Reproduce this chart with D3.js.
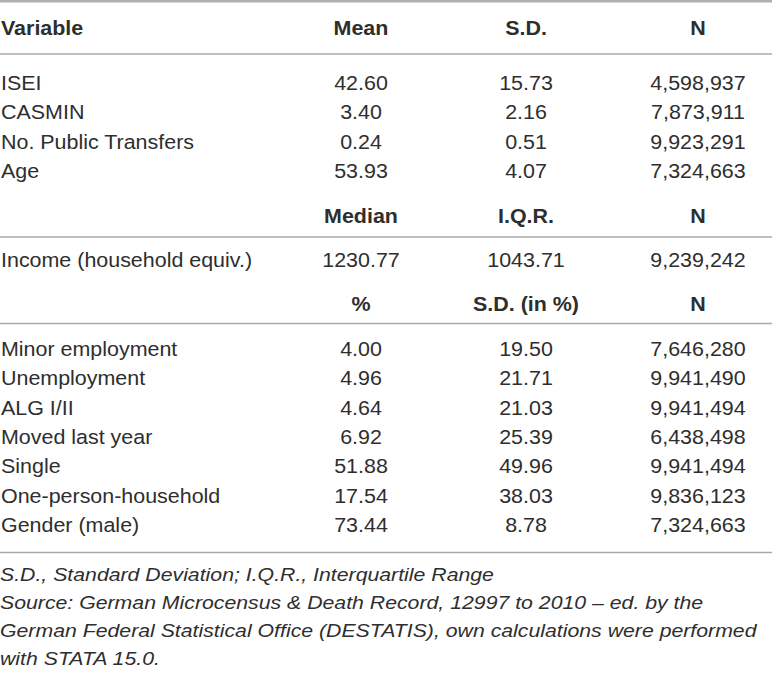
<!DOCTYPE html>
<html>
<head>
<meta charset="utf-8">
<title>Descriptive statistics</title>
<style>
  body { margin: 0; background: #fff; }
  text { font-family: "Liberation Sans", Arial, Helvetica, sans-serif; fill: #2e2e2e; }
</style>
</head>
<body>
<div id="chart"></div>
<script src="https://d3js.org/d3.v7.min.js"></script>
<script>

// table content, one array per thing
var headMeans = ["Variable", "Mean", "S.D.", "N"];
var headMedian = ["", "Median", "I.Q.R.", "N"];
var headPct = ["", "%", "S.D. (in %)", "N"];

var meanVars = ["ISEI", "CASMIN", "No. Public Transfers", "Age"];
var meanVals = [42.60, 3.40, 0.24, 53.93];
var meanSD = [15.73, 2.16, 0.51, 4.07];
var meanN = [4598937, 7873911, 9923291, 7324663];

var medVars = ["Income (household equiv.)"];
var medVals = [1230.77];
var medIQR = [1043.71];
var medN = [9239242];

var pctVars = ["Minor employment", "Unemployment", "ALG I/II", "Moved last year",
               "Single", "One-person-household", "Gender (male)"];
var pctVals = [4.00, 4.96, 4.64, 6.92, 51.88, 17.54, 73.44];
var pctSD = [19.50, 21.71, 21.03, 25.39, 49.96, 38.03, 8.78];
var pctN = [7646280, 9941490, 9941494, 6438498, 9941494, 9836123, 7324663];

var notes = [
  "S.D., Standard Deviation; I.Q.R., Interquartile Range",
  "Source: German Microcensus & Death Record, 12997 to 2010 \u2013 ed. by the",
  "German Federal Statistical Office (DESTATIS), own calculations were performed",
  "with STATA 15.0."
];

var w = 772, h = 675;
var fs = 19.5, sx = 1.1;      // font size and horizontal stretch of the print font
var rowH = 29.3;

var svg = d3.select("#chart").append("svg")
    .attr("width", w).attr("height", h);

// column centres (first column is left aligned)
var colX = d3.scaleOrdinal().domain([0, 1, 2, 3]).range([1, 361, 526, 698]);
var f2 = d3.format(".2f"), fN = d3.format(",");

function put(str, x, y, opts) {
  opts = opts || {};
  svg.append("text")
    .attr("transform", "translate(" + x + "," + y + ") scale(" + (opts.sx || sx) + ",1)")
    .attr("text-anchor", opts.anchor || "start")
    .style("font-size", (opts.size || fs) + "px")
    .style("font-weight", opts.bold ? "bold" : null)
    .style("font-style", opts.italic ? "italic" : null)
    .text(str);
}

function rule(y, width, col) {
  svg.append("line")
    .attr("x1", 0).attr("x2", w)
    .attr("y1", y).attr("y2", y)
    .attr("stroke", col || "#a8a8a8")
    .attr("stroke-width", width || 1.5);
}

function header(labels, y) {
  labels.forEach(function(l, i) {
    if (l) put(l, colX(i), y, {bold: true, anchor: i == 0 ? "start" : "middle"});
  });
}

function block(vars, a, b, n, y0) {
  var y = d3.scaleLinear().domain([0, 1]).range([y0, y0 + rowH]);
  vars.forEach(function(v, i) {
    put(v, colX(0), y(i));
    put(f2(a[i]), colX(1), y(i), {anchor: "middle"});
    put(f2(b[i]), colX(2), y(i), {anchor: "middle"});
    put(fN(n[i]), colX(3), y(i), {anchor: "middle"});
  });
}

rule(1.2, 2.4, "#b0b0b0");
header(headMeans, 35);
rule(54);
block(meanVars, meanVals, meanSD, meanN, 90);

header(headMedian, 223);
rule(237);
block(medVars, medVals, medIQR, medN, 267);

header(headPct, 311);
rule(323.5);
block(pctVars, pctVals, pctSD, pctN, 356);
rule(552.5);

var noteY = d3.scaleLinear().domain([0, 1]).range([581, 609]);
notes.forEach(function(t, i) {
  put(t, 0, noteY(i), {italic: true, size: 17.5, sx: 1.215});
});

</script>
</body>
</html>
